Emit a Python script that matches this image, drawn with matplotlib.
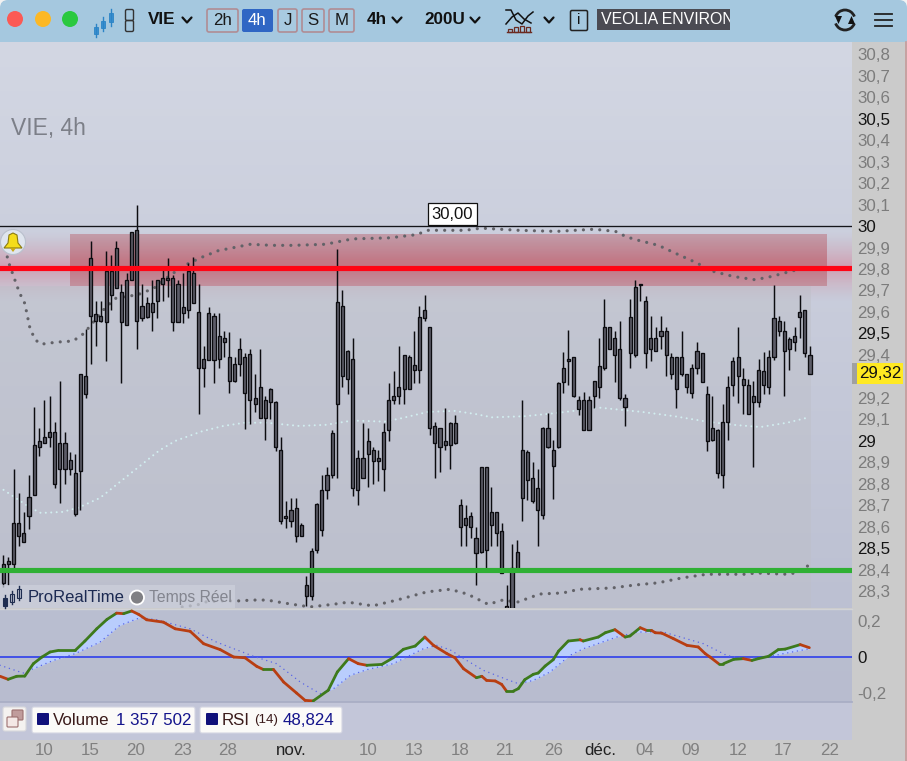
import numpy as np
import matplotlib
matplotlib.use('Agg')
import matplotlib.pyplot as plt
from matplotlib.collections import LineCollection
from matplotlib.patches import Rectangle, Circle, FancyBboxPatch, Polygon, Arc

plt.rcParams['font.family'] = ['Liberation Sans', 'DejaVu Sans']

# 4h candles, left to right
highs = [28.47,28.46,28.87,28.76,28.67,28.84,29.16,29.06,29.19,29.21,29.09,29.28,29.04,28.95,28.94,29.31,
         29.52,29.93,29.65,29.65,29.885,29.865,29.93,29.73,29.78,29.97,30.10,29.73,29.67,29.75,29.75,29.81,29.85,29.77,29.75,29.78,29.83,29.855,29.73,29.44,29.625,29.595,29.595,29.51,29.505,29.39,29.48,29.41,29.43,29.31,29.43,29.21,29.245,29.185,29.02,28.72,28.735,28.735,
         28.62,28.37,28.50,28.71,28.84,28.88,29.05,29.895,29.70,29.425,29.48,28.96,29.085,29.06,28.97,28.96,29.085,29.27,29.325,29.44,29.40,29.40,29.51,29.63,29.68,29.53,29.09,29.06,29.155,29.09,29.12,28.73,28.70,28.67,28.60,28.88,28.88,28.785,28.67,28.62,28.33,28.52,28.54,29.19,28.96,28.90,28.87,29.065,29.13,29.005,29.275,29.415,29.515,
         29.39,29.21,29.23,29.21,29.28,29.48,29.66,29.53,29.51,29.56,29.22,29.66,29.75,29.73,29.675,29.58,29.53,29.58,29.53,29.41,29.39,29.51,29.31,29.36,29.46,29.41,29.255,29.21,29.055,29.17,29.30,29.39,29.53,29.34,29.29,29.28,29.38,29.415,29.425,29.725,29.58,29.56,29.485,29.53,29.68,29.61,29.44]
lows = [28.32,28.33,28.39,28.51,28.53,28.59,28.75,28.93,28.99,28.97,28.78,28.71,28.80,28.84,28.65,28.68,
        29.20,29.36,29.44,29.555,29.37,29.61,29.71,29.27,29.54,29.75,29.43,29.56,29.57,29.51,29.57,29.65,29.67,29.51,29.555,29.55,29.57,29.64,29.125,29.25,29.375,29.27,29.34,29.39,29.225,29.275,29.30,29.055,29.08,29.135,29.105,29.005,29.10,28.955,28.615,28.595,28.60,28.53,
        28.56,28.23,28.26,28.48,28.56,28.73,28.83,28.83,29.25,29.22,28.745,28.70,28.83,28.785,28.80,28.815,28.765,29.00,29.17,29.17,29.17,29.24,29.27,29.27,29.56,29.03,28.83,28.855,28.96,28.87,28.985,28.51,28.51,28.55,28.33,28.48,28.41,28.51,28.51,28.385,28.22,28.20,28.40,28.63,28.725,28.71,28.51,28.635,28.965,28.73,28.965,29.225,29.26,
        29.205,29.12,29.05,29.05,29.155,29.20,29.33,29.43,29.275,29.19,29.07,29.34,29.39,29.65,29.34,29.37,29.42,29.43,29.30,29.29,29.155,29.30,29.225,29.20,29.31,29.275,28.955,29.00,28.83,28.78,29.005,29.21,29.175,29.125,29.125,28.88,29.16,29.22,29.22,29.375,29.49,29.21,29.33,29.42,29.48,29.39,29.31]
body_tops = [28.43,28.44,28.62,28.62,28.57,28.74,28.98,29.00,29.02,29.04,29.04,28.99,28.99,28.91,28.85,29.31,
             29.30,29.85,29.59,29.58,29.79,29.79,29.90,29.695,29.75,29.97,29.98,29.63,29.64,29.64,29.75,29.76,29.76,29.76,29.73,29.625,29.79,29.78,29.60,29.38,29.595,29.58,29.49,29.48,29.39,29.36,29.43,29.39,29.405,29.20,29.25,29.19,29.24,29.18,28.96,28.65,28.68,28.69,
             28.61,28.33,28.49,28.705,28.77,28.84,29.035,29.645,29.63,29.42,29.38,28.92,28.92,29.00,28.96,28.92,29.04,29.19,29.21,29.25,29.40,29.39,29.355,29.575,29.61,29.53,29.07,29.06,29.00,29.085,29.085,28.70,28.64,28.65,28.55,28.88,28.88,28.67,28.67,28.58,28.23,28.41,28.485,28.96,28.95,28.83,28.78,29.06,29.06,28.96,29.27,29.34,29.38,
             29.39,29.19,29.19,29.19,29.28,29.35,29.53,29.53,29.48,29.43,29.20,29.575,29.715,29.73,29.65,29.48,29.48,29.51,29.51,29.39,29.39,29.39,29.31,29.34,29.42,29.41,29.22,29.06,29.05,29.09,29.25,29.37,29.39,29.29,29.26,29.21,29.33,29.325,29.39,29.57,29.56,29.51,29.475,29.49,29.60,29.61,29.40]
body_bots = [28.34,28.43,28.43,28.56,28.53,28.65,28.75,28.97,28.99,29.02,28.80,28.87,28.87,28.87,28.66,28.86,
             29.22,29.58,29.56,29.56,29.555,29.68,29.71,29.555,29.54,29.75,29.56,29.57,29.575,29.60,29.65,29.73,29.75,29.555,29.555,29.595,29.61,29.64,29.34,29.34,29.375,29.375,29.38,29.46,29.28,29.28,29.36,29.225,29.19,29.17,29.105,29.105,29.18,28.97,28.63,28.64,28.63,28.56,
             28.56,28.28,28.28,28.495,28.585,28.77,28.84,29.17,29.30,29.29,28.78,28.77,28.83,28.94,28.905,28.905,28.87,29.05,29.19,29.21,29.24,29.24,29.33,29.33,29.57,29.06,28.99,28.97,28.98,28.98,28.99,28.60,28.61,28.60,28.48,28.485,28.495,28.61,28.57,28.385,28.22,28.20,28.40,28.735,28.82,28.72,28.68,28.655,28.97,28.885,28.97,29.275,29.37,
             29.21,29.15,29.05,29.05,29.21,29.25,29.34,29.43,29.40,29.20,29.16,29.41,29.40,29.725,29.41,29.43,29.42,29.49,29.40,29.31,29.24,29.31,29.25,29.225,29.34,29.275,29.00,29.005,28.85,28.84,29.09,29.26,29.30,29.26,29.125,29.18,29.18,29.26,29.25,29.39,29.51,29.42,29.43,29.46,29.575,29.41,29.31]

# bollinger style bands, read at a few time positions
upper_t = [0,1,2,3,4,5,6,7,10,13,15,17,19,21,25,28,31,34,37,40,43,46,50,54,60,65,72,77,79,86,89,96,103,110,114,116,118,122,125,129,132,136,140,143,146,150]
upper_v = [29.93,29.83,29.76,29.69,29.64,29.52,29.47,29.45,29.46,29.465,29.50,29.56,29.62,29.665,29.68,29.71,29.77,29.82,29.855,29.885,29.90,29.915,29.91,29.91,29.915,29.94,29.945,29.96,29.98,29.98,29.99,29.98,29.975,29.985,29.975,29.95,29.935,29.91,29.875,29.83,29.79,29.765,29.75,29.765,29.785,29.81]
mid_t = [-1,2,5,7,11,14,18,21,25,29,32,37,41,45,49,55,60,65,71,74,79,84,88,91,97,103,111,119,125,131,136,141,146,150]
mid_v = [28.79,28.74,28.69,28.665,28.67,28.69,28.735,28.795,28.875,28.955,29.00,29.045,29.07,29.085,29.085,29.07,29.075,29.095,29.09,29.105,29.135,29.14,29.125,29.11,29.115,29.13,29.155,29.135,29.115,29.09,29.075,29.065,29.085,29.11]
lower_t = [33.3,36.1,37.6,40.4,43.7,46.5,49.1,52.1,54.7,57.1,61.4,64.2,68.8,73.3,78.9,83.2,86.4,90.3,93,95.7,99.9,104.2,107.2,113.3,117.6,121.9,126.4,131,138.5,140,146,147.4,149.9]
lower_v = [28.228,28.237,28.251,28.256,28.256,28.26,28.26,28.247,28.237,28.228,28.24,28.25,28.233,28.26,28.298,28.31,28.288,28.24,28.26,28.25,28.288,28.293,28.31,28.316,28.33,28.34,28.363,28.38,28.38,28.386,28.38,28.386,28.42]

# lower panel: thick line and its dotted signal
osc_t = [-0.6,0.9,2.5,4,5.6,7.2,8.7,10.3,13.4,15.2,17.4,19.3,21.1,22.4,23.9,25.2,26.7,29.8,32,34.8,37.3,40.4,42.9,45,47.2,48.4,50.3,52.2,54.6,56.2,57.7,60.5,62.2,64.3,66.1,67.7,70.5,72.6,74.5,76.7,78.5,80.1,82.6,84.1,85.7,88.1,89.1,90,91.6,92.8,93.7,95,95.9,97.1,98.7,99.6,100.9,102.4,103.4,105.2,107.4,108,110.8,112.1,113.9,115.8,116.7,118.6,119.8,120.7,121.4,122.6,124.8,127.3,129.4,130.7,131.6,133.2,134.1,136,137.8,139.4,140.6,142.5,144.3,145.6,148.4,150.1]
osc_v = [-0.107,-0.124,-0.107,-0.106,-0.037,0,0.028,0.037,0.037,0.089,0.157,0.209,0.244,0.241,0.256,0.237,0.207,0.194,0.157,0.143,0.074,0.041,0,-0.004,-0.052,-0.069,-0.069,-0.139,-0.2,-0.241,-0.244,-0.185,-0.083,-0.009,-0.037,-0.046,-0.041,-0.004,0.043,0.061,0.111,0.065,0.019,-0.004,-0.065,-0.115,-0.107,-0.13,-0.133,-0.152,-0.189,-0.189,-0.176,-0.126,-0.096,-0.089,-0.05,-0.015,0.033,0.089,0.096,0.089,0.111,0.135,0.152,0.111,0.117,0.163,0.148,0.148,0.135,0.133,0.102,0.065,0.056,0.019,0,-0.037,-0.037,-0.013,-0.009,-0.019,-0.009,0.004,0.041,0.044,0.069,0.052]
sig_t = [-0.6,3.7,5.6,9.3,13.4,18,21.7,25.5,28.6,34.8,39.7,46.6,50.9,55.3,59,61.5,64.6,67.7,72.6,78.2,80.7,83.2,86.3,89.4,93.7,95.9,98.7,101.8,105.5,108,114.2,118,122.9,126.6,130.4,134.7,137.8,142.2,145.3,150.1]
sig_v = [-0.046,-0.089,-0.065,-0.019,0.019,0.083,0.176,0.219,0.207,0.157,0.083,0.004,-0.037,-0.139,-0.204,-0.176,-0.102,-0.07,-0.037,0.046,0.065,0.04,-0.019,-0.074,-0.124,-0.148,-0.13,-0.083,0.009,0.046,0.111,0.139,0.139,0.107,0.074,0.009,-0.009,0,0.019,0.046]

# 29,3 sits under the last price tag
price_ticks = [28.3,28.4,28.5,28.6,28.7,28.8,28.9,29.0,29.1,29.2,29.4,29.5,29.6,29.7,29.8,29.9,30.0,30.1,30.2,30.3,30.4,30.5,30.6,30.7,30.8]
date_pos = [7.6,16.1,24.7,33.3,41.8,53.6,67.9,76.5,85,93.4,102.4,111.1,119.5,128,136.8,145.2,153.9]
date_labels = ['10','15','20','23','28','nov.','10','13','18','21','26','déc.','04','09','12','17','22']

support = 28.40
resistance = 29.805
round_level = 30.0
last_price = 29.32
zone_top, zone_bot = 29.96, 29.72

bar_step = 0.9568   # candles sit a bit closer than one time unit
W, H = 907, 761
XLIM = (-0.615, 158.04)


def panel(top, bottom, right=852):
    return fig.add_axes([0, 1 - bottom / H, right / W, (bottom - top) / H])


def vgrad(ax, top_col, bot_col):
    c = np.linspace(matplotlib.colors.to_rgb(top_col), matplotlib.colors.to_rgb(bot_col), 256)[:, None, :]
    ax.imshow(c, aspect='auto', extent=[0, 1, 0, 1], transform=ax.transAxes, zorder=0)


fig = plt.figure(figsize=(W / 100, H / 100), dpi=100, facecolor='#cbcbcb')

# price panel
ax = panel(42, 608)
vgrad(ax, '#d3d7e3', '#bcc0d2')

# pink glow round the resistance line
glow = np.zeros((200, 1, 4))
yy = np.linspace(-1, 1, 200)
glow[:, 0, :3] = (0.86, 0.28, 0.38)
glow[:, 0, 3] = 0.34 * np.clip(1 - np.abs(yy), 0, 1) ** 1.3
ax.imshow(glow, aspect='auto', extent=[XLIM[0], XLIM[1], resistance - 0.16, resistance + 0.17], zorder=1)

# slightly greyer where there are bars
x_last = (len(highs) - 1) * bar_step + 0.25
ax.add_patch(Rectangle((XLIM[0], 28.223), x_last - XLIM[0], zone_bot - 28.223, fc=(0.74, 0.75, 0.78), ec='none', alpha=0.45, zorder=1))

# resistance zone
zone = np.zeros((100, 1, 4))
zone[:, 0, :3] = (0.70, 0.22, 0.26)
zone[:, 0, 3] = 0.33 + 0.10 * (1 - np.abs(np.linspace(-1, 1, 100)))
ax.imshow(zone, aspect='auto', extent=[12.4, 153.2, zone_bot, zone_top], zorder=2)

ax.plot(mid_t, mid_v, color='#d2eef0', lw=1.5, ls=(0, (0.01, 2.6)), dash_capstyle='round', zorder=2.5)
ax.plot(upper_t, upper_v, color='#626268', lw=2.3, ls=(0, (0.01, 2.55)), dash_capstyle='round', zorder=2.5)
ax.plot(lower_t, lower_v, color='#626268', lw=2.3, ls=(0, (0.01, 2.55)), dash_capstyle='round', zorder=2.5)

t = np.arange(len(highs)) * bar_step
heights = np.array(body_tops) - np.array(body_bots)
ax.vlines(t, lows, highs, color='#0c0c10', lw=1.05, zorder=3)
ax.bar(t, heights, bottom=body_bots, width=0.58, color='#5c5c68', edgecolor='#0c0c10', lw=0.95, zorder=3.2)

ax.axhline(round_level, color='#15151a', lw=0.95, zorder=3.5)
ax.axhline(resistance, color='#ff0414', lw=3.7, zorder=4)
ax.axhline(support, color='#2fb034', lw=3.7, zorder=4)

ax.set_xlim(*XLIM)
ax.set_ylim(28.223, 30.856)
ax.set_xticks([])
ax.yaxis.tick_right()
ax.set_yticks(price_ticks)
labels = [f'{p:g}'.replace('.', ',') for p in price_ticks]
ax.set_yticklabels(labels, fontsize=12.2)
ax.tick_params(axis='y', length=0, pad=4)
for lab, p in zip(ax.get_yticklabels(), price_ticks):
    lab.set_color('#151515' if round(p * 10) % 5 == 0 else '#7c7c7c')
for s in ax.spines.values():
    s.set_visible(False)

# oscillator panel
ax2 = panel(609, 702)
vgrad(ax2, '#babfd1', '#b8bccf')
grid = np.linspace(osc_t[0], osc_t[-1], 1200)
o = np.interp(grid, osc_t, osc_v)
s = np.interp(grid, sig_t, sig_v)
ax2.fill_between(grid, o, s, where=o >= s, color='#b9cdfd', zorder=1, interpolate=True)
ax2.axhline(0, color='#2233ee', lw=1.1, zorder=2)
ax2.plot(sig_t, sig_v, color='#5a66e8', lw=1.1, ls=(0, (0.01, 3.2)), dash_capstyle='round', zorder=2.5)
pts = np.column_stack([osc_t, osc_v])
segs = np.stack([pts[:-1], pts[1:]], axis=1)
seg_col = ['#3d7a1c' if b >= a else '#b83e12' for a, b in zip(osc_v[:-1], osc_v[1:])]
ax2.add_collection(LineCollection(segs, colors=seg_col, linewidths=2.0, capstyle='round', zorder=3))
ax2.set_xlim(*XLIM)
ax2.set_ylim(-0.25, 0.267)
ax2.set_xticks([])
ax2.yaxis.tick_right()
ax2.set_yticks([-0.2, 0, 0.2])
ax2.set_yticklabels(['-0,2', '0', '0,2'], fontsize=12.2)
ax2.tick_params(axis='y', length=0, pad=4)
for lab, col in zip(ax2.get_yticklabels(), ['#7c7c7c', '#151515', '#7c7c7c']):
    lab.set_color(col)
for sp in ax2.spines.values():
    sp.set_visible(False)
ax2.spines['bottom'].set_visible(True)
ax2.spines['bottom'].set_color('#a9aec6')
ax2.spines['bottom'].set_linewidth(1.3)
ax2.spines['top'].set_visible(True)
ax2.spines['top'].set_color('#d2d3d6')
ax2.spines['top'].set_linewidth(1.0)

# strip under the oscillator, carries the date axis
ax3 = panel(703, 740)
ax3.set_facecolor('#c3c6d9')
ax3.set_xlim(*XLIM)
ax3.set_yticks([])
ax3.set_xticks(date_pos)
ax3.set_xticklabels(date_labels, fontsize=12.2)
ax3.tick_params(axis='x', length=0, pad=2)
for lab in ax3.get_xticklabels():
    lab.set_color('#222222' if lab.get_text().endswith('.') else '#808080')
for sp in ax3.spines.values():
    sp.set_visible(False)

# everything that is screen furniture goes on a pixel overlay
ui = fig.add_axes([0, 0, 1, 1], zorder=10)
ui.set_xlim(0, W)
ui.set_ylim(H, 0)
ui.axis('off')
ui.patch.set_alpha(0)

# toolbar
ui.add_patch(Rectangle((0, 0), W, 12, fc='#f2f2f2', ec='none'))
ui.add_patch(FancyBboxPatch((8, 8), W - 16, 26, boxstyle='round,pad=8', fc='#a5c8df', ec='none', clip_on=True))
ui.add_patch(Rectangle((0, 22), W, 20, fc='#a5c8df', ec='none'))
for x, col in [(15, '#fb5a55'), (43, '#fcb825'), (70, '#2ac940')]:
    ui.add_patch(Circle((x, 19), 8, fc=col, ec='none'))

# candle icon and link icon
for x, y0, y1, b0, b1 in [(96, 24, 37, 27, 34), (103, 17, 31, 21, 28), (111, 9, 26, 13, 22)]:
    ui.plot([x, x], [y0, y1], color='#2b84c6', lw=1)
    ui.add_patch(Rectangle((x - 2, b0), 4, b1 - b0, fc='#3a90d0', ec='#2b84c6', lw=0.6))
ui.add_patch(FancyBboxPatch((127, 11), 5, 8, boxstyle='round,pad=1.5', fc='none', ec='#333', lw=1.0))
ui.add_patch(FancyBboxPatch((127, 22), 5, 8, boxstyle='round,pad=1.5', fc='none', ec='#333', lw=1.0))


def chevron(x, y=20):
    ui.plot([x - 4.5, x, x + 4.5], [y - 2.5, y + 2.5, y - 2.5], color='#111', lw=1.6, solid_capstyle='round')


ui.text(162, 20, 'VIE', fontsize=12.3, fontweight='bold', ha='center', va='center', color='#111')
chevron(187)
for x0, x1, lab in [(207, 238, '2h'), (278, 297, 'J'), (302, 324, 'S'), (329, 354, 'M')]:
    ui.add_patch(FancyBboxPatch((x0 + 2, 11), x1 - x0 - 4, 19, boxstyle='round,pad=2', fc='#a8cae0', ec='#b08c94', lw=1.2))
    ui.text((x0 + x1) / 2, 20.5, lab, fontsize=12.2, ha='center', va='center', color='#1a1a1a')
ui.add_patch(FancyBboxPatch((244, 11), 27, 19, boxstyle='round,pad=2', fc='#2f66c4', ec='none'))
ui.text(257.5, 20.5, '4h', fontsize=12.2, ha='center', va='center', color='white')
ui.text(377, 20, '4h', fontsize=12.3, fontweight='bold', ha='center', va='center', color='#111')
chevron(397)
ui.text(445, 20, '200U', fontsize=12.3, fontweight='bold', ha='center', va='center', color='#111')
chevron(475)

# indicator icon
ui.plot([506, 511, 516, 522, 528, 533], [10, 10, 20, 24, 16, 12], color='#111', lw=1.1)
ui.plot([506, 512, 518, 524, 531], [24, 17, 13, 19, 23], color='#111', lw=1.1)
ui.plot([507, 531], [32, 32], color='#6b2a20', lw=1.0)
ui.bar([510, 516, 522, 528], [3, 5, 6, 5], bottom=[29, 27, 26, 27], width=3.6, fc='none', ec='#6b2a20', lw=0.9)
chevron(549)
ui.add_patch(FancyBboxPatch((572, 12), 14, 17, boxstyle='round,pad=1.5', fc='none', ec='#222', lw=1.1))
ui.text(579, 20.5, 'i', fontsize=11, ha='center', va='center', color='#111')

name_box = Rectangle((597, 9), 133, 21, fc='#4b4b53', ec='none')
ui.add_patch(name_box)
name_txt = ui.text(601, 20, 'VEOLIA ENVIRON', fontsize=11.4, ha='left', va='center', color='white', clip_on=True)
name_txt.set_clip_path(name_box)

# sync arrows
ui.add_patch(Arc((845, 20), 20, 20, theta1=200, theta2=340, color='#222', lw=2))
ui.add_patch(Arc((845, 20), 20, 20, theta1=20, theta2=160, color='#222', lw=2))
ui.add_patch(Polygon([[835, 16], [842, 16], [838.5, 24]], fc='#111', ec='none'))
ui.add_patch(Polygon([[848, 24], [855, 24], [851.5, 16]], fc='#111', ec='none'))
for y in [14, 20, 26]:
    ui.plot([875, 892], [y, y], color='#222', lw=1.3)

# window right edge
ui.plot([905.5, 905.5], [42, H], color='#c69a9a', lw=1.2)

# panel captions
ui.text(11, 129, 'VIE, 4h', fontsize=16.5, ha='left', va='center', color='#7c7f88')
ui.add_patch(Rectangle((428, 203), 49, 22, fc='white', ec='#111', lw=0.9))
ui.text(452.5, 214.5, '30,00', fontsize=12, ha='center', va='center', color='#111')

# current price tag
ui.add_patch(Rectangle((852, 363), 6, 21, fc='#a0a0a0', ec='none'))
ui.add_patch(Rectangle((857, 363), 46, 21, fc='#ffe922', ec='none'))
ui.text(880, 373.5, f'{last_price:.2f}'.replace('.', ','), fontsize=12.2, ha='center', va='center', color='#111')

# bell
ui.add_patch(Circle((13, 242), 12.5, fc='#dfe5ee', ec='#b9c0cc', lw=0.8))
ui.add_patch(Polygon([[13, 233], [17, 235], [18, 243], [22, 248], [4, 248], [8, 243], [9, 235]], fc='#f4dc1a', ec='#8a7a10', lw=0.8))
ui.add_patch(Polygon([[10, 248], [16, 248], [13, 252]], fc='#c9a812', ec='none'))

# ProRealTime tag
ui.add_patch(Rectangle((0, 585), 235, 23, fc='#cdd0dc', ec='none', alpha=0.72))
for x, y0, y1, b0, b1, fc in [(5, 595, 608, 598, 606, '#1f2d50'), (12, 591, 604, 594, 602, 'none'), (19, 586, 600, 589, 598, 'none')]:
    ui.plot([x, x], [y0, y1], color='#1f2d50', lw=1.0)
    ui.add_patch(Rectangle((x - 2, b0), 4, b1 - b0, fc=fc if fc != 'none' else '#cdd0dc', ec='#1f2d50', lw=0.8))
ui.text(28, 597, 'ProRealTime', fontsize=12, ha='left', va='center', color='#1c2a52')
ui.add_patch(Circle((137, 597.5), 7, fc='#808084', ec='white', lw=1.3))
ui.text(149, 597.5, 'Temps Réel', fontsize=11.3, ha='left', va='center', color='#83858f')

# legend chips under the oscillator
ui.add_patch(FancyBboxPatch((5, 709), 19, 20, boxstyle='round,pad=2', fc='#f4f2f0', ec='#d8d8dc', lw=0.8))
ui.add_patch(FancyBboxPatch((13, 711), 9, 8, boxstyle='round,pad=1', fc='#c09c9c', ec='#9c7070', lw=0.8))
ui.add_patch(FancyBboxPatch((8, 718), 9, 8, boxstyle='round,pad=1', fc='#f4e8e6', ec='#9c7070', lw=0.8))
ui.add_patch(FancyBboxPatch((34, 709), 159, 22, boxstyle='round,pad=2', fc='#fbfaf8', ec='#d4d6e2', lw=0.8))
ui.add_patch(FancyBboxPatch((202, 709), 138, 22, boxstyle='round,pad=2', fc='#fbfaf8', ec='#d4d6e2', lw=0.8))
for x in [38, 207]:
    ui.add_patch(FancyBboxPatch((x, 714), 10, 10, boxstyle='round,pad=1', fc='#10107a', ec='none'))
ui.text(53, 720.5, 'Volume', fontsize=12.2, ha='left', va='center', color='#3a1a1a')
ui.text(116, 720.5, '1 357 502', fontsize=12.2, ha='left', va='center', color='#14148c')
ui.text(222, 720.5, 'RSI', fontsize=12.2, ha='left', va='center', color='#3a1a1a')
ui.text(254, 720.5, '(14)', fontsize=9.6, ha='left', va='center', color='#3a1a1a')
ui.text(283, 720.5, '48,824', fontsize=12.2, ha='left', va='center', color='#14148c')

fig.savefig('out.png', dpi=100, facecolor=fig.get_facecolor())
